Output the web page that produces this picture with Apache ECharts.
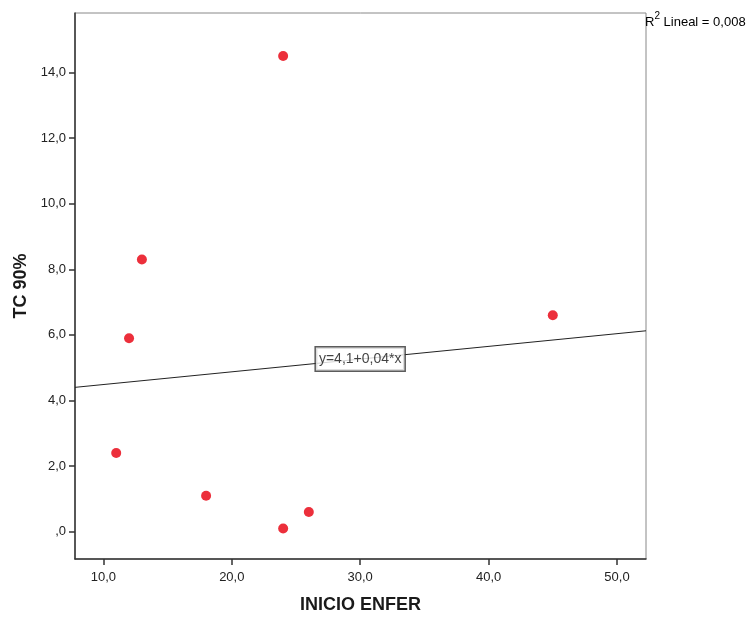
<!DOCTYPE html>
<html>
<head>
<meta charset="utf-8">
<script src="https://cdn.jsdelivr.net/npm/echarts@6/dist/echarts.min.js"></script>
<style>
  html, body { margin: 0; padding: 0; background: #fff; }
  #chart { width: 748px; height: 617px; }
</style>
</head>
<body>
<div id="chart"></div>
<script>
// datos
var inicioEnfer = [24, 13, 12, 45, 11, 18, 24, 26];
var tc90 = [14.5, 8.3, 5.9, 6.6, 2.4, 1.1, 0.1, 0.6];
var xTicks = [10, 20, 30, 40, 50];
var yTicks = [0, 2, 4, 6, 8, 10, 12, 14];
var xRange = [7.79, 52.26];
var yRange = [-0.83, 15.81];
var ecuacion = "y=4,1+0,04*x";
var r2Texto = "0,008";

// ajuste lineal (minimos cuadrados) desde los datos
function ajuste(xs, ys) {
  var n = xs.length, mx = 0, my = 0;
  for (var i = 0; i < n; i++) { mx += xs[i]; my += ys[i]; }
  mx /= n; my /= n;
  var sxy = 0, sxx = 0;
  for (var j = 0; j < n; j++) {
    sxy += (xs[j] - mx) * (ys[j] - my);
    sxx += (xs[j] - mx) * (xs[j] - mx);
  }
  var b = sxy / sxx;
  return { a: my - b * mx, b: b };
}
var fit = ajuste(inicioEnfer, tc90);
var lineaData = [
  [xRange[0], fit.a + fit.b * xRange[0]],
  [xRange[1], fit.a + fit.b * xRange[1]]
];
var etiquetaX = 30;
var puntos = inicioEnfer.map(function (x, i) { return [x, tc90[i]]; });

function fmt(v) {
  var s = v.toFixed(1).replace(".", ",");
  return v === 0 ? ",0" : s;
}

var chart = echarts.init(document.getElementById("chart"));
var fuente = "Liberation Sans, Arial, sans-serif";
var option = {
  backgroundColor: "#fff",
  animation: false,
  grid: {
    left: 75,
    right: 102,
    top: 13,
    bottom: 58,
    outerBoundsMode: "none",
    show: true,
    borderColor: "#888",
    borderWidth: 1
  },
  xAxis: {
    type: "value",
    min: xRange[0],
    max: xRange[1],
    name: "INICIO ENFER",
    nameLocation: "middle",
    nameGap: 37,
    nameTextStyle: { fontFamily: fuente, fontSize: 18, fontWeight: "bold", color: "#1a1a1a" },
    axisLine: { show: true, onZero: false, lineStyle: { color: "#333", width: 1.5 } },
    axisTick: { show: true, length: 6, customValues: xTicks, lineStyle: { color: "#333", width: 1.5 } },
    axisLabel: {
      customValues: xTicks,
      margin: 12,
      fontFamily: fuente,
      fontSize: 13,
      color: "#222",
      formatter: fmt
    },
    splitLine: { show: false }
  },
  yAxis: {
    type: "value",
    min: yRange[0],
    max: yRange[1],
    name: "TC 90%",
    nameLocation: "middle",
    nameGap: 45,
    nameRotate: 90,
    nameTextStyle: { fontFamily: fuente, fontSize: 18, fontWeight: "bold", color: "#1a1a1a" },
    axisLine: { show: true, onZero: false, lineStyle: { color: "#333", width: 1.5 } },
    axisTick: { show: true, length: 6, customValues: yTicks, lineStyle: { color: "#333", width: 1.5 } },
    axisLabel: {
      customValues: yTicks,
      margin: 9,
      fontFamily: fuente,
      fontSize: 13,
      color: "#222",
      formatter: fmt
    },
    splitLine: { show: false }
  },
  series: [
    {
      name: "Ajuste",
      type: "line",
      data: lineaData,
      symbol: "none",
      lineStyle: { color: "#222", width: 1 },
      z: 2
    },
    {
      name: "Ecuacion",
      type: "scatter",
      data: [[etiquetaX, fit.a + fit.b * etiquetaX]],
      symbolSize: 0,
      label: {
        show: true,
        position: "inside",
        formatter: ecuacion,
        fontFamily: fuente,
        fontSize: 14,
        color: "#111",
        backgroundColor: "#fff",
        borderColor: "#333",
        borderWidth: 1.5,
        padding: [5, 3, 4, 3]
      },
      z: 4
    },
    {
      name: "TC 90%",
      type: "scatter",
      data: puntos,
      symbolSize: 10,
      itemStyle: { color: "#ec2f3b", opacity: 1 },
      z: 3
    }
  ],
  graphic: [
    {
      type: "text",
      left: 645,
      top: 11,
      style: {
        text: "{a|R}{s|2}{a| Lineal = " + r2Texto + "}",
        rich: {
          a: { fontFamily: fuente, fontSize: 13, color: "#222", verticalAlign: "bottom", lineHeight: 18 },
          s: { fontFamily: fuente, fontSize: 10, color: "#222", verticalAlign: "top", padding: [0, 0, 7, 0], lineHeight: 18 }
        }
      }
    }
  ]
};
chart.setOption(option);
window.addEventListener("resize", function () {
  chart.resize();
});
</script>
</body>
</html>
